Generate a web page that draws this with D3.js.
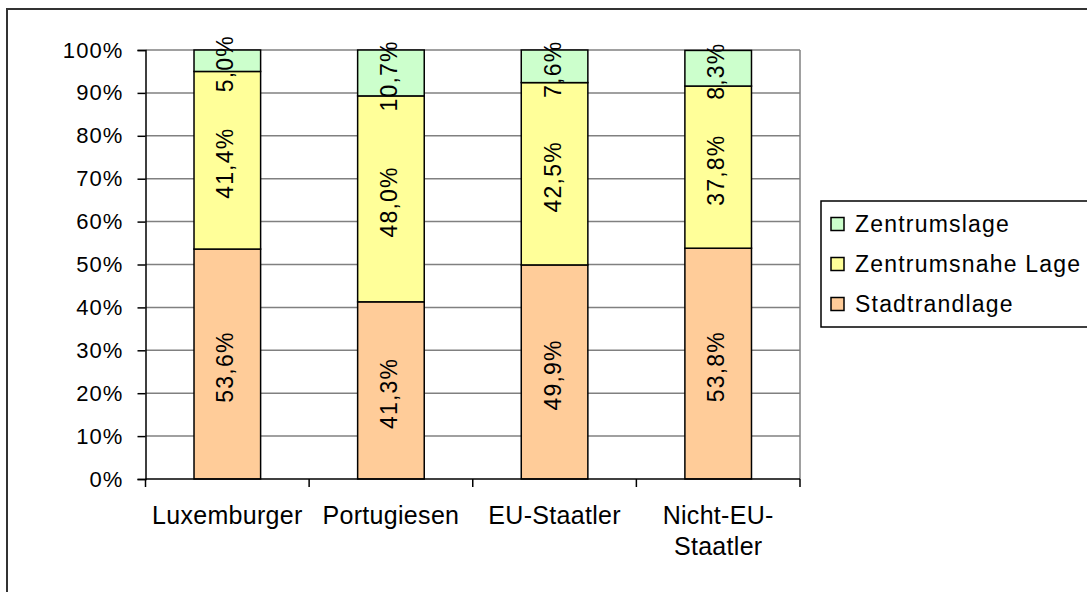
<!DOCTYPE html>
<html>
<head>
<meta charset="utf-8">
<script src="https://cdn.jsdelivr.net/npm/d3@7"></script>
<style>
  body { margin: 0; background: #fff; }
  text { font-family: "Liberation Sans", Arial, sans-serif; fill: #000; }
</style>
</head>
<body>
<script>
var categories = ["Luxemburger", "Portugiesen", "EU-Staatler", "Nicht-EU-Staatler"];
var categoryLines = [["Luxemburger"], ["Portugiesen"], ["EU-Staatler"], ["Nicht-EU-", "Staatler"]];
var seriesNames = ["Stadtrandlage", "Zentrumsnahe Lage", "Zentrumslage"];
var stadtrand = [53.6, 41.3, 49.9, 53.8];
var zentrumsnah = [41.4, 48.0, 42.5, 37.8];
var zentrum = [5.0, 10.7, 7.6, 8.3];
var yTicks = [0, 10, 20, 30, 40, 50, 60, 70, 80, 90, 100];
var colors = ["#ffcc99", "#ffff99", "#ccffcc"];

var width = 1087, height = 592;
var plotL = 145.5, plotR = 800, plotT = 50, plotB = 479;

var svg = d3.select("body").append("svg")
    .attr("width", width)
    .attr("height", height);

// outer chart border (runs off the right and bottom)
svg.append("rect")
    .attr("x", 7).attr("y", 9)
    .attr("width", width + 10).attr("height", height + 10)
    .attr("fill", "#fff")
    .attr("stroke", "#333")
    .attr("stroke-width", 2);

var x = d3.scaleBand()
    .domain(categories)
    .range([plotL, plotR])
    .padding(0);

var y = d3.scaleLinear()
    .domain([0, 100])
    .range([plotB, plotT]);

var barW = x.step() * 0.407;

// gridlines
svg.append("g").selectAll("line")
    .data(yTicks.filter(function(d) { return d > 0; }))
    .enter().append("line")
    .attr("x1", plotL).attr("x2", plotR)
    .attr("y1", function(d) { return y(d); })
    .attr("y2", function(d) { return y(d); })
    .attr("stroke", "#808080")
    .attr("stroke-width", 1.5);

// right border of plot area
svg.append("line")
    .attr("x1", plotR).attr("x2", plotR)
    .attr("y1", plotT).attr("y2", plotB)
    .attr("stroke", "#808080")
    .attr("stroke-width", 1.5);

// stacked data
var rows = categories.map(function(c, i) {
    return { cat: c, Stadtrandlage: stadtrand[i], "Zentrumsnahe Lage": zentrumsnah[i], Zentrumslage: zentrum[i] };
});
var stacked = d3.stack().keys(seriesNames)(rows);

var layer = svg.append("g").selectAll("g")
    .data(stacked)
    .enter().append("g")
    .attr("fill", function(d, i) { return colors[i]; });

layer.selectAll("rect")
    .data(function(d) { return d; })
    .enter().append("rect")
    .attr("x", function(d) { return x(d.data.cat) + (x.step() - barW) / 2; })
    .attr("y", function(d) { return y(d[1]); })
    .attr("width", barW)
    .attr("height", function(d) { return y(d[0]) - y(d[1]); })
    .attr("stroke", "#000")
    .attr("stroke-width", 1.5);

// value labels
var labels = svg.append("g");
stacked.forEach(function(s) {
    labels.selectAll(null)
        .data(s)
        .enter().append("text")
        .attr("transform", function(d) {
            var cx = x(d.data.cat) + x.step() / 2 - 2;
            var cy = (y(d[0]) + y(d[1])) / 2 + 3;
            return "translate(" + cx + "," + cy + ")rotate(-90)";
        })
        .attr("text-anchor", "middle")
        .attr("dy", "0.35em")
        .style("font-size", "23px")
        .style("letter-spacing", "1.2px")
        .text(function(d) { return d3.format(".1f")(d.data[s.key]).replace(".", ",") + "%"; });
});

// y axis
var yAxis = svg.append("g")
    .attr("transform", "translate(" + plotL + ",0)")
    .call(d3.axisLeft(y).tickValues(yTicks).tickSize(8).tickPadding(14)
        .tickFormat(function(d) { return d + "%"; }));
yAxis.select(".domain").attr("stroke", "#000").attr("stroke-width", 1.5);
yAxis.selectAll(".tick line").attr("stroke", "#000").attr("stroke-width", 1.5);
yAxis.selectAll(".tick text")
    .style("font-size", "22px")
    .style("letter-spacing", "1.1px")
    .style("font-family", "'Liberation Sans', Arial, sans-serif")
    .attr("fill", "#000");

// x axis baseline + ticks at category boundaries
svg.append("line")
    .attr("x1", plotL).attr("x2", plotR)
    .attr("y1", plotB).attr("y2", plotB)
    .attr("stroke", "#000").attr("stroke-width", 1.5);

var bounds = categories.map(function(c) { return x(c); }).concat([plotR]);
svg.append("g").selectAll("line")
    .data(bounds)
    .enter().append("line")
    .attr("x1", function(d) { return d; }).attr("x2", function(d) { return d; })
    .attr("y1", plotB).attr("y2", plotB + 8)
    .attr("stroke", "#000").attr("stroke-width", 1.5);

// category labels
svg.append("g").selectAll("text")
    .data(categories)
    .enter().append("text")
    .attr("x", function(d) { return x(d) + x.step() / 2; })
    .attr("y", 524)
    .attr("text-anchor", "middle")
    .style("font-size", "25px")
    .style("letter-spacing", "0.3px")
    .selectAll("tspan")
    .data(function(d, i) { return categoryLines[i]; })
    .enter().append("tspan")
    .attr("x", function() { return d3.select(this.parentNode).attr("x"); })
    .attr("dy", function(d, i) { return i === 0 ? 0 : 31; })
    .text(function(d) { return d; });

// legend
var legend = svg.append("g");
legend.append("rect")
    .attr("x", 821).attr("y", 201)
    .attr("width", 300).attr("height", 126)
    .attr("fill", "#fff")
    .attr("stroke", "#000")
    .attr("stroke-width", 1.5);

var legendOrder = seriesNames.slice().reverse();
var item = legend.selectAll("g.item")
    .data(legendOrder)
    .enter().append("g")
    .attr("class", "item")
    .attr("transform", function(d, i) { return "translate(831," + (224 + i * 40) + ")"; });

item.append("rect")
    .attr("x", 0).attr("y", -6.5)
    .attr("width", 13).attr("height", 13)
    .attr("fill", function(d) { return colors[seriesNames.indexOf(d)]; })
    .attr("stroke", "#000")
    .attr("stroke-width", 1.5);

item.append("text")
    .attr("x", 24)
    .attr("dy", "0.35em")
    .style("font-size", "23px")
    .style("letter-spacing", "1.2px")
    .text(function(d) { return d; });
</script>
</body>
</html>
